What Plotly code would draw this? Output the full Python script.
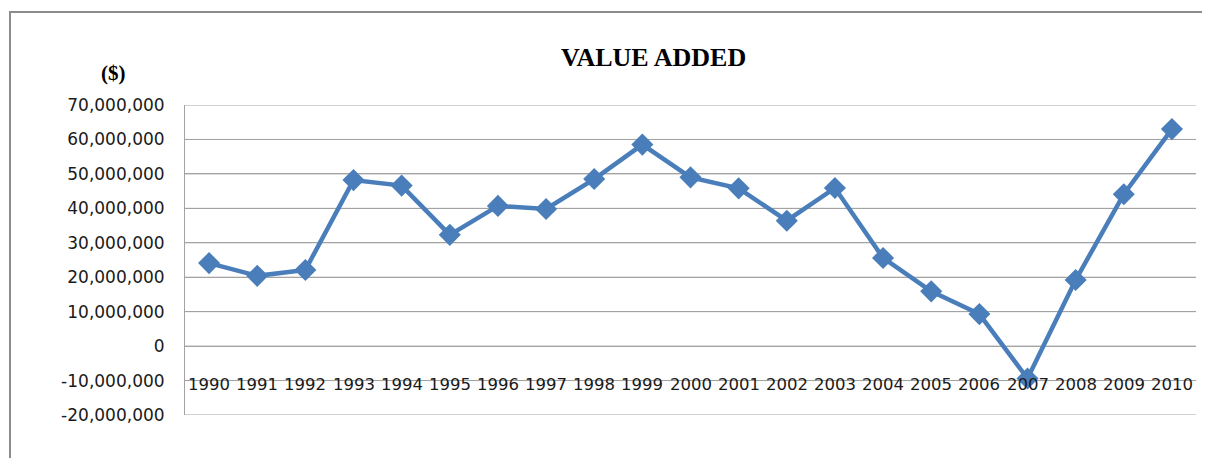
import plotly.graph_objects as go

years = [str(y) for y in range(1990, 2011)]
value_added = [24.1e6, 20.4e6, 22.1e6, 48.2e6, 46.6e6, 32.3e6, 40.7e6, 39.8e6,
               48.5e6, 58.5e6, 49.0e6, 45.8e6, 36.4e6, 45.9e6, 25.6e6, 15.9e6,
               9.3e6, -9.4e6, 19.2e6, 44.1e6, 63.0e6]
y_ticks = list(range(-20_000_000, 70_000_001, 10_000_000))
y_tick_labels = [f"{v:,}" for v in y_ticks]
title_text = "VALUE ADDED"
unit_text = "($)"
label_row = -10_000_000

# page body has an 8px margin; work in window pixels and offset
OX, OY = 8, 8
W, H = 1202, 450
L = 185 - OX
T = 105 - OY
R = W - (1196 - OX)
B = H - (415 - OY)
pw, ph = W - L - R, H - T - B

def px_x(x):
    return (x - OX - L) / pw

def px_y(y):
    return (H - B - (y - OY)) / ph

GRID = "#a3a3a3"

fig = go.Figure()

# horizontal gridlines at every y tick
for v in y_ticks:
    fig.add_shape(type="line", xref="paper", yref="y", x0=0, x1=1, y0=v, y1=v,
                  line=dict(color=GRID, width=1), layer="below")

fig.add_trace(go.Scatter(
    x=years, y=value_added, mode="lines+markers",
    line=dict(color="#4A7EBB", width=4.5),
    marker=dict(symbol="diamond", size=17, color="#4A7EBB"),
    showlegend=False, hoverinfo="x+y",
))

for i, yr in enumerate(years):
    fig.add_annotation(x=i, y=label_row, xref="x", yref="y", text=yr,
                       showarrow=False, yanchor="middle", yshift=-4,
                       font=dict(family="DejaVu Sans", size=16.5, color="#1a1a1a"))

fig.add_annotation(x=px_x(653), y=px_y(57), xref="paper", yref="paper",
                   text=f"<b>{title_text}</b>", showarrow=False,
                   xanchor="center", yanchor="middle",
                   font=dict(family="Liberation Serif", size=26, color="#000"))
fig.add_annotation(x=px_x(113), y=px_y(73), xref="paper", yref="paper",
                   text=f"<b>{unit_text}</b>", showarrow=False,
                   xanchor="center", yanchor="middle",
                   font=dict(family="Liberation Serif", size=21, color="#000"))

fig.add_shape(type="rect", xref="paper", yref="paper",
              x0=px_x(10), x1=px_x(1240), y0=px_y(520), y1=px_y(12),
              line=dict(color="#8c8c8c", width=2), fillcolor="rgba(0,0,0,0)",
              layer="below")

fig.update_layout(
    width=W, height=H,
    margin=dict(l=L, r=R, t=T, b=B),
    paper_bgcolor="white", plot_bgcolor="white",
    xaxis=dict(type="category", range=[-0.5, len(years) - 0.5],
               showticklabels=False, showgrid=False, zeroline=False,
               showline=False, ticks=""),
    yaxis=dict(range=[-20_000_000, 70_000_000], tickvals=y_ticks,
               ticktext=y_tick_labels, showgrid=True, gridcolor=GRID,
               gridwidth=1, zeroline=False, showline=True, linecolor=GRID,
               linewidth=1, ticks="", ticklabelstandoff=16,
               tickfont=dict(family="DejaVu Sans", size=17, color="#1a1a1a")),
)

fig.write_html("out.html")
